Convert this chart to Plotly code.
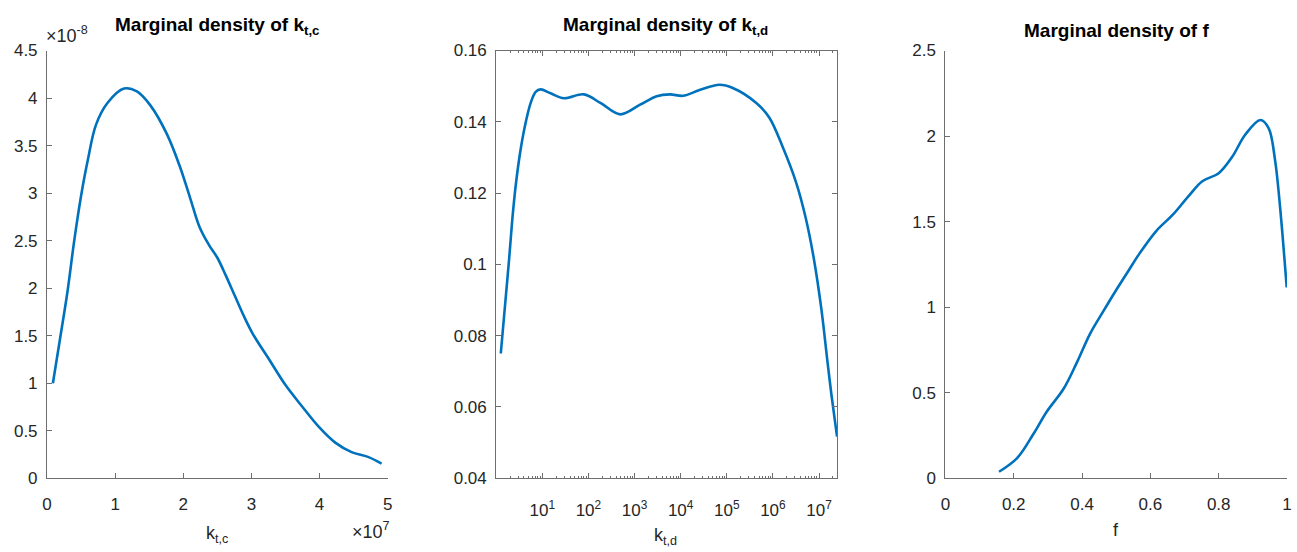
import plotly.graph_objects as go

# ---- data -------------------------------------------------------------
# Marginal density of k_t,c  (x in units of 1e7, density in units of 1e-8)
ktc_x = [0.087, 0.19, 0.30, 0.40, 0.50, 0.60, 0.72, 0.89, 1.13, 1.32, 1.52,
         1.76, 1.95, 2.10, 2.24, 2.38, 2.50, 2.62, 2.75, 2.88, 3.02, 3.26,
         3.50, 3.75, 3.99, 4.23, 4.47, 4.71, 4.91]
ktc_density = [1.00, 1.46, 1.96, 2.50, 2.97, 3.35, 3.72, 3.95, 4.10, 4.07, 3.92,
               3.62, 3.28, 2.95, 2.64, 2.45, 2.32, 2.14, 1.93, 1.72, 1.52, 1.25,
               0.98, 0.75, 0.54, 0.375, 0.275, 0.225, 0.155]

# Marginal density of k_t,d  (x given as log10 exponents)
ktd_log10 = [0.10, 0.28, 0.353, 0.424, 0.517, 0.618, 0.748, 0.856, 0.963, 1.18,
             1.47, 1.90, 2.26, 2.69, 3.12, 3.48, 3.77, 4.05, 4.41, 4.84, 5.13,
             5.64, 5.92, 6.21, 6.50, 6.71, 6.89, 7.05, 7.18, 7.27, 7.39]
ktd_density = [0.075, 0.1014, 0.1131, 0.1222, 0.1312, 0.1385, 0.1453, 0.1484,
               0.1491, 0.1480, 0.1466, 0.1477, 0.1453, 0.1421, 0.1448, 0.1472,
               0.1477, 0.1473, 0.1489, 0.1504, 0.1495, 0.1453, 0.1412, 0.1330,
               0.1231, 0.1131, 0.1014, 0.0875, 0.0730, 0.0633, 0.0517]
ktd_x = [10 ** e for e in ktd_log10]

# Marginal density of f
f_x = [0.157, 0.21, 0.258, 0.297, 0.346, 0.384, 0.423, 0.462, 0.50, 0.535,
       0.568, 0.617, 0.665, 0.713, 0.752, 0.80, 0.839, 0.878, 0.922, 0.946,
       0.965, 0.98, 0.999]
f_density = [0.038, 0.118, 0.26, 0.39, 0.523, 0.673, 0.843, 0.975, 1.10, 1.21,
             1.313, 1.445, 1.539, 1.652, 1.736, 1.783, 1.877, 2.009, 2.094, 2.047,
             1.858, 1.576, 1.116]

# tick values / labels
ktc_xticks = [0, 1, 2, 3, 4, 5]
ktc_yticks = [0, 0.5, 1, 1.5, 2, 2.5, 3, 3.5, 4, 4.5]
ktd_xticks = [10, 100, 1e3, 1e4, 1e5, 1e6, 1e7]
ktd_xticktext = ["10<sup>%d</sup>" % k for k in range(1, 8)]
ktd_yticks = [0.04, 0.06, 0.08, 0.1, 0.12, 0.14, 0.16]
ktd_yticktext = ["0.04", "0.06", "0.08", "0.1", "0.12", "0.14", "0.16"]
f_xticks = [0, 0.2, 0.4, 0.6, 0.8, 1]
f_xticktext = ["0", "0.2", "0.4", "0.6", "0.8", "1"]
f_yticks = [0, 0.5, 1, 1.5, 2, 2.5]

# ---- layout helpers ----------------------------------------------------
W, H = 1297, 552
FONT = "Liberation Sans, Arial, Helvetica, sans-serif"
TXT = "#262626"
AX = "#6e6e6e"
BLUE = "#0072BD"


def px(x):
    return x / W


def py(y):
    return 1 - y / H


TOP, BOT = 43, 486
panels = {
    "1": (42.3, 385.7),
    "2": (495.0, 838.5),
    "3": (947.7, 1292.0),
}

fig = go.Figure()
line_style = dict(color=BLUE, width=2.6, shape="spline", smoothing=1.0)
fig.add_trace(go.Scatter(x=ktc_x, y=ktc_density, mode="lines", line=line_style,
                         xaxis="x", yaxis="y", showlegend=False))
fig.add_trace(go.Scatter(x=ktd_x, y=ktd_density, mode="lines", line=line_style,
                         xaxis="x2", yaxis="y2", showlegend=False))
fig.add_trace(go.Scatter(x=f_x, y=f_density, mode="lines", line=line_style,
                         xaxis="x3", yaxis="y3", showlegend=False))

common = dict(showgrid=False, zeroline=False, showline=True, linecolor=AX,
              linewidth=1, ticks="inside", ticklen=5, tickwidth=1, tickcolor=AX,
              tickfont=dict(family=FONT, size=17, color=TXT), fixedrange=True)

ydom = [py(BOT), py(TOP)]

# minor ticks for the log axis: 2..9 x 10^k
minor_vals = [m * 10 ** k for k in range(0, 8) for m in range(2, 10)
              if m * 10 ** k <= 2.45e7]

fig.update_layout(
    width=W, height=H,
    margin=dict(l=0, r=0, t=0, b=0),
    paper_bgcolor="white", plot_bgcolor="white",
    font=dict(family=FONT, color=TXT),
    xaxis=dict(domain=[px(panels["1"][0]), px(panels["1"][1])], anchor="y",
               range=[0, 5], tickvals=ktc_xticks, ticklabelstandoff=10,
               **common),
    yaxis=dict(domain=ydom, anchor="x", range=[0, 4.5], tickvals=ktc_yticks,
               ticklabelstandoff=5, **common),
    xaxis2=dict(domain=[px(panels["2"][0]), px(panels["2"][1])], anchor="y2",
                type="log", range=[0, 7.39], tickvals=ktd_xticks,
                ticktext=ktd_xticktext, mirror="ticks", ticklabelstandoff=16,
                minor=dict(tickmode="array", tickvals=minor_vals, ticks="inside",
                           ticklen=2.5, tickcolor=AX, tickwidth=1),
                **common),
    yaxis2=dict(domain=ydom, anchor="x2", range=[0.04, 0.16], tickvals=ktd_yticks,
                ticktext=ktd_yticktext, mirror="ticks", ticklabelstandoff=5,
                **common),
    xaxis3=dict(domain=[px(panels["3"][0]), px(panels["3"][1])], anchor="y3",
                range=[0, 1], tickvals=f_xticks, ticktext=f_xticktext,
                ticklabelstandoff=10, **common),
    yaxis3=dict(domain=ydom, anchor="x3", range=[0, 2.5], tickvals=f_yticks,
                ticklabelstandoff=5, **common),
)

ann = []


def text(x, y, s, size=17, bold=False, xanchor="center", yanchor="middle"):
    if bold:
        s = "<b>" + s + "</b>"
    ann.append(dict(x=px(x), y=py(y), xref="paper", yref="paper", text=s,
                    showarrow=False, xanchor=xanchor, yanchor=yanchor,
                    font=dict(family=FONT, size=size, color="black" if bold else TXT)))


# panel titles
text(214, 32, "Marginal density of k<sub>t,c</sub>", size=19, bold=True, yanchor="bottom")
text(666, 32, "Marginal density of k<sub>t,d</sub>", size=19, bold=True, yanchor="bottom")
text(1120, 35, "Marginal density of f", size=19, bold=True, yanchor="bottom")

# axis labels
text(214, 530, "k<sub>t,c</sub>", size=18, yanchor="top")
text(666, 532, "k<sub>t,d</sub>", size=18, yanchor="top")
text(1120, 527, "f", size=18, yanchor="top")

# exponent multipliers
text(39, 40, "\u00d710<sup>-8</sup>", size=18, xanchor="left", yanchor="bottom")
text(390, 526, "\u00d710<sup>7</sup>", size=18, xanchor="right", yanchor="top")

fig.update_layout(annotations=ann)

fig.write_html("out.html")
